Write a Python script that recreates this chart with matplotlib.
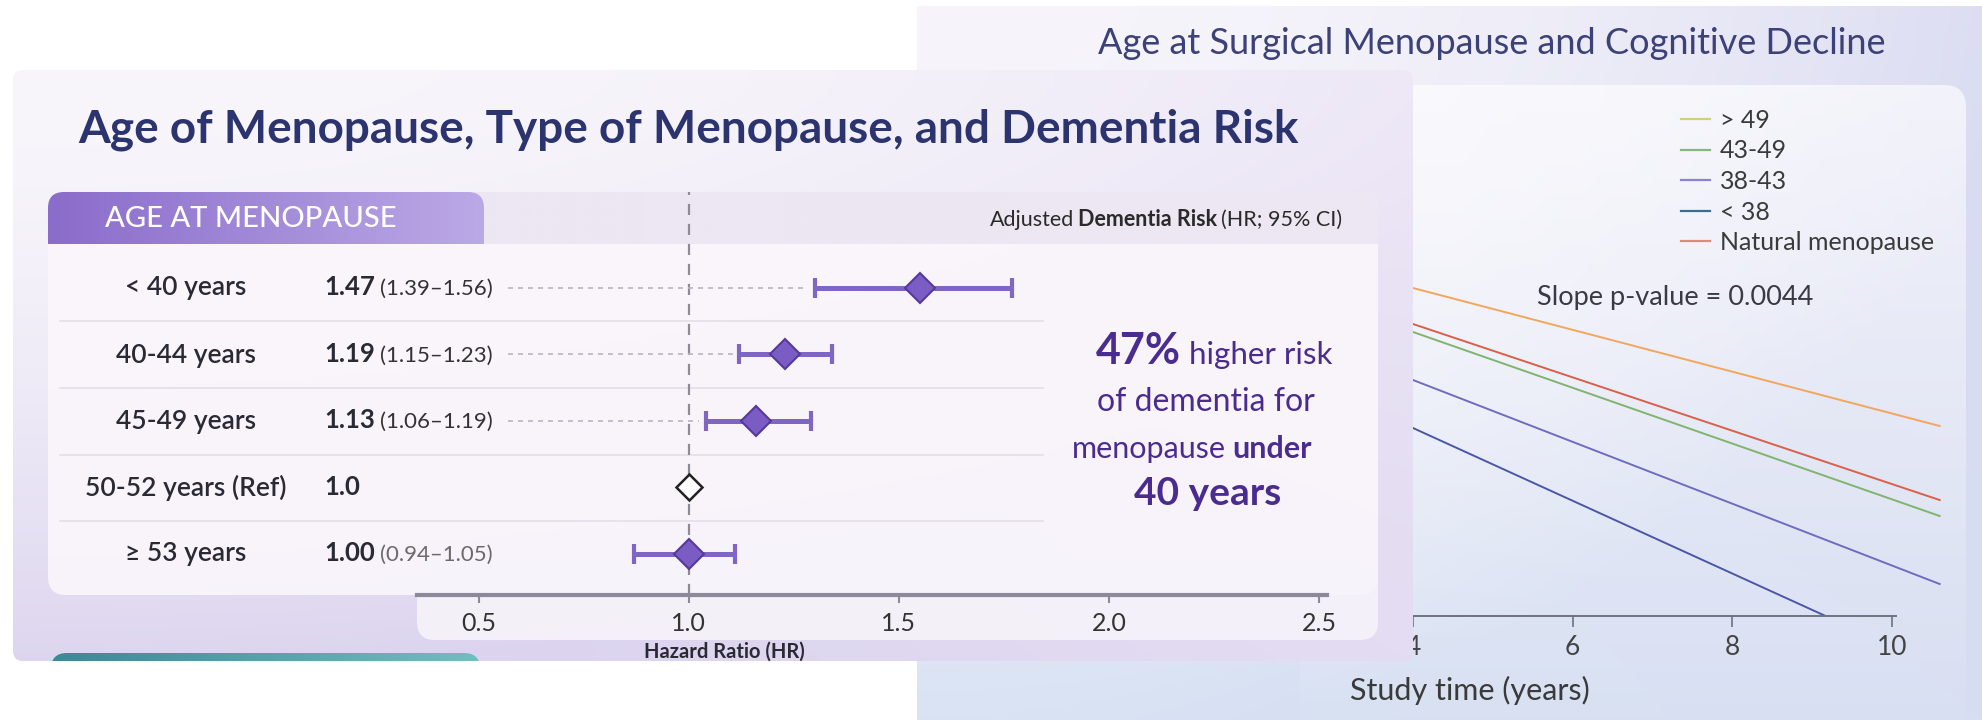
import numpy as np
import matplotlib
matplotlib.use("Agg")
import matplotlib.pyplot as plt
from matplotlib.patches import FancyBboxPatch
from matplotlib.lines import Line2D

plt.rcParams["font.family"] = ["Lato", "DejaVu Sans"]

# ---- forest plot: age at menopause vs dementia risk ----
row_labels = ["< 40 years", "40-44 years", "45-49 years", "50-52 years (Ref)", "\u2265 53 years"]
hr_text = ["1.47", "1.19", "1.13", "1.0", "1.00"]
ci_text = ["(1.39\u20131.56)", "(1.15\u20131.23)", "(1.06\u20131.19)", "", "(0.94\u20131.05)"]
# positions as drawn on the HR axis
hr_drawn = [1.55, 1.23, 1.16, 1.00, 1.00]
ci_lo = [1.30, 1.12, 1.04, np.nan, 0.87]
ci_hi = [1.77, 1.34, 1.29, np.nan, 1.11]
hr_ticks = [0.5, 1.0, 1.5, 2.0, 2.5]

# ---- cognitive decline slopes (value at start / end of study time) ----
years = [4.0, 10.6]
groups = ["> 49", "43-49", "38-43", "< 38", "Natural menopause"]
decline_gt49 = [-0.18, -0.525]
decline_43_49 = [-0.29, -0.75]
decline_38_43 = [-0.41, -0.92]
decline_lt38 = [-0.53, -1.13]
decline_natural = [-0.27, -0.71]
time_ticks = [4, 6, 8, 10]

line_colors = ["#f2a65e", "#80b46f", "#6f6cc0", "#4a57a6", "#d9604a"]
legend_colors = ["#cfd27a", "#86b77e", "#8c80d2", "#3a6e8e", "#e08a74"]

W, H = 1982, 720
fig = plt.figure(figsize=(W / 100, H / 100), dpi=100)
fig.patch.set_facecolor("white")


def px_axes(x0, y0, x1, y1, z):
    ax = fig.add_axes([x0 / W, 1 - y1 / H, (x1 - x0) / W, (y1 - y0) / H], zorder=z)
    ax.patch.set_visible(False)
    return ax


def gradient(ax, x0, y0, x1, y1, c_a, c_b, c_c, clip=None, z=1, mode="lr"):
    u = np.linspace(0, 1, 200)[None, :]
    v = np.linspace(0, 1, 100)[:, None]
    if mode == "lr":
        a = np.repeat(u, 100, axis=0); b = np.zeros_like(a)
    else:
        a = 0.9 * u ** 2 * np.ones_like(v)
        b = 0.9 * v ** 1.6 * np.ones_like(u)
        s = np.clip(a + b, 1e-6, None)
        k = np.clip(s, 0, 1)
        a, b = a / s * k, b / s * k
    img = (np.array(c_a)[None, None, :] * (1 - a - b)[..., None]
           + np.array(c_b)[None, None, :] * a[..., None]
           + np.array(c_c)[None, None, :] * b[..., None])
    im = ax.imshow(np.clip(img, 0, 1), extent=[x0, x1, y1, y0], aspect="auto",
                   interpolation="bilinear", zorder=z)
    if clip is not None:
        im.set_clip_path(clip)
    return im


def rgb(h):
    h = h.lstrip("#")
    return [int(h[i:i + 2], 16) / 255 for i in (0, 2, 4)]


def runs(ax, x, y, parts, ha="left", gap=6):
    r = fig.canvas.get_renderer()
    ts = [ax.text(0, y, s, va="baseline", ha="left", **kw) for s, kw in parts]
    ws = [t.get_window_extent(r).width for t in ts]
    total = sum(ws) + gap * (len(ts) - 1)
    x0 = {"left": x, "center": x - total / 2, "right": x - total}[ha]
    for t, w in zip(ts, ws):
        t.set_x(x0)
        x0 += w + gap


# ---------------- background + right card ----------------
ax_bg = px_axes(0, 0, W, H, 0)
ax_bg.axis("off")
gradient(ax_bg, 917, 6, W, H, rgb("#f7f5fb"), rgb("#d9dbf1"), rgb("#d6e1f3"), mode="2d")
inner = FancyBboxPatch((1300, 85), 666, 680, boxstyle="round,pad=0,rounding_size=22",
                       fc="none", ec="none")
ax_bg.add_patch(inner)
fade = np.ones((100, 2, 4))
fade[:, :, 3] = np.linspace(0.65, 0.05, 100)[:, None]
im = ax_bg.imshow(fade, extent=[1300, 1966, 720, 85], aspect="auto", interpolation="bilinear", zorder=2)
im.set_clip_path(inner)
ax_bg.text(1492, 44, "Age at Surgical Menopause and Cognitive Decline", ha="center", va="center",
           fontsize=26, color="#3c4278")
ax_bg.text(1675, 298, "Slope p-value = 0.0044", ha="center", va="center", fontsize=19.5, color="#3a3a44")
ax_bg.text(1470, 690, "Study time (years)", ha="center", va="center", fontsize=22, color="#3a3a3a")
ax_bg.set_xlim(0, W); ax_bg.set_ylim(H, 0)

# ---------------- line chart ----------------
ax_line = px_axes(1200, 236, 1960, 616, 1)
for vals, c in zip([decline_gt49, decline_43_49, decline_38_43, decline_lt38, decline_natural], line_colors):
    ax_line.plot(years, vals, color=c, lw=1.4)
ax_line.set_xlim(1.331, 10.855)
ax_line.set_ylim(-1.0, -0.05)
for s in ["left", "right", "top"]:
    ax_line.spines[s].set_visible(False)
ax_line.spines["bottom"].set_color("#70717f")
ax_line.spines["bottom"].set_linewidth(1.4)
ax_line.spines["bottom"].set_bounds(1.331, 10.05)
ax_line.set_xticks(time_ticks)
ax_line.set_xticklabels([str(t) for t in time_ticks])
ax_line.tick_params(axis="x", direction="out", length=8, width=1.2, color="#70717f",
                    labelsize=19, labelcolor="#444444", pad=6)
ax_line.set_yticks([])
handles = [Line2D([0], [0], color=c, lw=1.6) for c in legend_colors]
fig.legend(handles, groups, loc="upper left", bbox_to_anchor=(1681 / W, 1 - 109 / H),
           frameon=False, fontsize=18, handlelength=1.15, handletextpad=0.4,
           labelspacing=0.3, borderpad=0, borderaxespad=0, labelcolor="#3a3a3a")

# ---------------- left card ----------------
ax_l = px_axes(0, 0, W, H, 2)
ax_l.axis("off")
outer = FancyBboxPatch((13, 70), 1400, 591, boxstyle="round,pad=0,rounding_size=10",
                       fc="none", ec="none")
ax_l.add_patch(outer)
gradient(ax_l, 13, 70, 1413, 661, rgb("#f8f6fb"), rgb("#ece6f6"), rgb("#dad2ee"), clip=outer, z=1, mode="2d")

teal = FancyBboxPatch((51, 653), 429, 40, boxstyle="round,pad=0,rounding_size=16", fc="none", ec="none")
ax_l.add_patch(teal)
gradient(ax_l, 51, 653, 480, 661, rgb("#3f8796"), rgb("#74bcc0"), rgb("#74bcc0"), clip=teal, z=2)

ax_l.text(78, 130, "Age of Menopause, Type of Menopause, and Dementia Risk", ha="left", va="center",
          fontsize=33, fontweight="bold", color="#2c3470")

card = FancyBboxPatch((48, 192), 1330, 403, boxstyle="round,pad=0,rounding_size=18",
                      fc="#faf6fb", ec="none", alpha=0.92, zorder=3)
ax_l.add_patch(card)
card_low = FancyBboxPatch((417, 560), 961, 80, boxstyle="round,pad=0,rounding_size=18",
                          fc="#f7f3fa", ec="none", alpha=0.9, zorder=3)
ax_l.add_patch(card_low)
gradient(ax_l, 48, 192, 1378, 244, rgb("#ece7f2"), rgb("#ece7f2"), rgb("#ece7f2"), clip=card, z=4)
tab = FancyBboxPatch((48, 192), 436, 80, boxstyle="round,pad=0,rounding_size=16", fc="none", ec="none")
ax_l.add_patch(tab)
gradient(ax_l, 48, 192, 484, 244, rgb("#8a6cca"), rgb("#bba9e6"), rgb("#bba9e6"), clip=tab, z=5)
ax_l.text(105, 219, "AGE AT MENOPAUSE", ha="left", va="center", fontsize=21, fontweight="medium",
          color="white", zorder=6)
runs(ax_l, 1342, 226, [("Adjusted", dict(fontsize=15.5, color="#2a2a2a", zorder=6)),
                       ("Dementia Risk", dict(fontsize=15.5, fontweight="bold", color="#2a2a2a", zorder=6)),
                       ("(HR; 95% CI)", dict(fontsize=15.5, color="#2a2a2a", zorder=6))], ha="right", gap=4)

row_y = [288, 355, 421, 488, 554]
for yy in [321, 388, 455, 521]:
    ax_l.plot([60, 1043], [yy, yy], color="#e4dee9", lw=1.2, zorder=5)
for i, yy in enumerate(row_y):
    ax_l.text(186, yy, row_labels[i], ha="center", va="center", fontsize=19,
              fontweight="semibold", color="#2a2a35", zorder=6)
    parts = [(hr_text[i], dict(fontsize=18.5, fontweight="bold", color="#2a2a35", zorder=6))]
    if ci_text[i]:
        parts.append((ci_text[i], dict(fontsize=16, color="#6a6a6a" if i == 4 else "#333333", zorder=6)))
    runs(ax_l, 324, yy + 7, parts, gap=5)

purple = "#4a2c91"
runs(ax_l, 1214, 364, [("47%", dict(fontsize=31, fontweight="bold", color=purple, zorder=6)),
                       ("higher risk", dict(fontsize=22.5, color=purple, zorder=6))], ha="center", gap=8)
runs(ax_l, 1206, 411, [("of dementia for", dict(fontsize=23, color=purple, zorder=6))], ha="center")
runs(ax_l, 1192, 458, [("menopause", dict(fontsize=22, color=purple, zorder=6)),
                       ("under", dict(fontsize=22, fontweight="bold", color=purple, zorder=6))], ha="center", gap=6)
runs(ax_l, 1208, 505, [("40 years", dict(fontsize=28, fontweight="bold", color=purple, zorder=6))], ha="center")
ax_l.text(724, 652, "Hazard Ratio (HR)", ha="center", va="center", fontsize=14.5,
          fontweight="bold", color="#2a2a35", zorder=6)
ax_l.set_xlim(0, W); ax_l.set_ylim(H, 0)

# ---------------- forest axes ----------------
ax_f = px_axes(417, 192, 1327, 595, 3)
ax_f.axvline(1.0, color="#8e8a96", ls=(0, (5, 4)), lw=1.6, zorder=1)
for i in range(len(row_labels)):
    if not np.isnan(ci_lo[i]):
        if i < 3:
            ax_f.hlines(i, 0.57, ci_lo[i] - 0.015, colors="#b9b4c2", linestyles=(0, (3, 3)), lw=1.2, zorder=1)
        ax_f.errorbar(hr_drawn[i], i, xerr=[[hr_drawn[i] - ci_lo[i]], [ci_hi[i] - hr_drawn[i]]],
                      fmt="none", ecolor="#8066c4", elinewidth=3.6, capsize=7, capthick=3, zorder=2)
        ax_f.plot(hr_drawn[i], i, marker="D", ms=15, mfc="#7b5cc4", mec="#55399b", mew=1.5, zorder=3)
    else:
        ax_f.plot(hr_drawn[i], i, marker="D", ms=13, mfc="white", mec="#222222", mew=1.8, zorder=3)
ax_f.set_xlim(0.3534, 2.519)
ax_f.set_ylim(4.62, -1.44)
for s in ["left", "right", "top"]:
    ax_f.spines[s].set_visible(False)
ax_f.spines["bottom"].set_color("#8d889a")
ax_f.spines["bottom"].set_linewidth(3)
ax_f.set_yticks([])
ax_f.set_xticks(hr_ticks)
ax_f.set_xticklabels([f"{t:.1f}" for t in hr_ticks])
ax_f.tick_params(axis="x", direction="out", length=6, width=1.5, color="#8d889a",
                 labelsize=18, labelcolor="#333333", pad=6)

fig.savefig("out.png", dpi=100)
